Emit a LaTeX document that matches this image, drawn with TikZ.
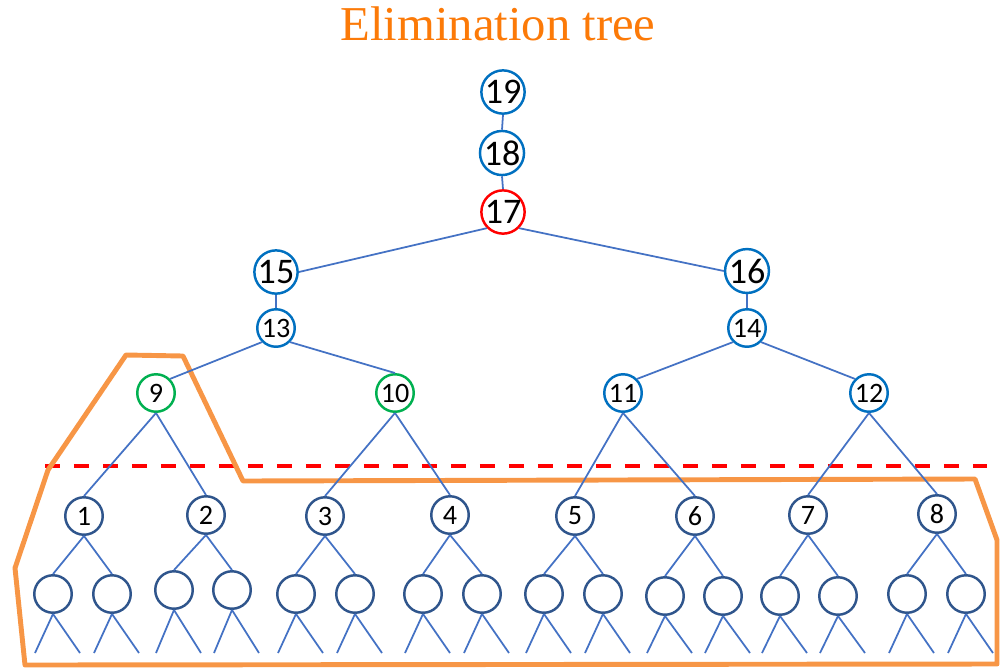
\documentclass[tikz,border=0pt]{standalone}
\usepackage{fontspec}
\setmainfont{Liberation Serif}
\newfontfamily\numfont{Carlito}
\begin{document}
\definecolor{titleorange}{RGB}{252,122,8}
\definecolor{hullorange}{RGB}{247,150,70}
\definecolor{topblue}{RGB}{0,112,192}
\definecolor{sepgreen}{RGB}{0,176,80}
\definecolor{lowblue}{RGB}{47,85,140}
\definecolor{edgeblue}{RGB}{68,114,196}
\begin{tikzpicture}[x=0.02cm,y=-0.02cm,
  tnode/.style={circle,inner sep=0pt,minimum size=0.75cm,line width=1.4pt,fill=white},
  bignum/.style={tnode,draw=topblue,font=\numfont\fontsize{20.5}{21}\selectfont},
  midnum/.style={tnode,draw=topblue,font=\numfont\fontsize{16}{17}\selectfont},
  rootsep/.style={tnode,draw=red,font=\numfont\fontsize{20.5}{21}\selectfont},
  sepnode/.style={tnode,draw=sepgreen,font=\numfont\fontsize{16}{17}\selectfont},
  lownode/.style={tnode,draw=lowblue,font=\numfont\fontsize{16}{17}\selectfont},
  leafnode/.style={tnode,draw=lowblue},
  edge/.style={draw=edgeblue,line width=1pt},
  hull/.style={draw=hullorange,line width=2.8pt,line join=round},
  cut/.style={draw=red,line width=2.3pt,dash pattern=on 0.3cm off 0.28cm}]
\useasboundingbox (0,0) rectangle (1000,670);

% title
\node[anchor=base,text=titleorange,font=\fontsize{27.7}{30}\selectfont] (title) at (498,40) {Elimination tree};

% separator line and subtree hull
\coordinate (cutL) at (45,466);
\coordinate (cutR) at (987,466);
\draw[cut] (cutL) -- (cutR);
\draw[hull] (126,355) -- (183,356) -- (243,481) -- (975,479) -- (997,540)
  -- (997,664) -- (25,665) -- (15,568) -- (48,470) -- cycle;

% upper part of the tree
\node[bignum]  (n19) at (503,92)  {19};
\node[bignum]  (n18) at (502,153) {18};
\node[rootsep] (n17) at (503,212) {17};
\node[bignum]  (n15) at (276,272) {15};
\node[bignum]  (n16) at (747,271) {16};
\node[midnum]  (n13) at (276,328) {13};
\node[midnum]  (n14) at (747,328) {14};
\node[sepnode] (n9)  at (156,393) {9};
\node[sepnode] (n10) at (395,393) {10};
\node[midnum]  (n11) at (623,393) {11};
\node[midnum]  (n12) at (869,393) {12};

% lower subtrees
\foreach \i/\x/\y in {1/84/516,2/206/515,3/325/516,4/450/515,5/575/516,6/695/516,7/808/515,8/937/514}
  \node[lownode] (n\i) at (\x,\y) {\i};

\foreach \i/\xa/\xb/\y in {1/53/112/594,2/174/232/590,3/296/355/594,4/423/482/594,
                           5/544/603/594,6/665/723/596,7/780/838/596,8/907/966/594}{
  \node[leafnode] (l\i a) at (\xa,\y) {};
  \node[leafnode] (l\i b) at (\xb,\y) {};
  \coordinate (f\i a1) at (\xa-18,653);
  \coordinate (f\i a2) at (\xa+27,653);
  \coordinate (f\i b1) at (\xb-18,653);
  \coordinate (f\i b2) at (\xb+27,653);
}

% connectors
\draw[edge] (n19.south) -- (n18.north);
\draw[edge] (n18.south) -- (n17.north);
\draw[edge] (n17.south west) -- (n15.east);
\draw[edge] (n17.south east) -- (n16.west);
\draw[edge] (n15.south) -- (n13.north);
\draw[edge] (n16.south) -- (n14.north);
\draw[edge] (n13.south west) -- (n9.north east);
\draw[edge] (n13.south east) -- (n10.north);
\draw[edge] (n14.south west) -- (n11.north east);
\draw[edge] (n14.south east) -- (n12.north west);
\draw[edge] (n9.south) -- (n1.north);
\draw[edge] (n9.south) -- (n2.north);
\draw[edge] (n10.south) -- (n3.north);
\draw[edge] (n10.south) -- (n4.north);
\draw[edge] (n11.south) -- (n5.north);
\draw[edge] (n11.south) -- (n6.north);
\draw[edge] (n12.south) -- (n7.north);
\draw[edge] (n12.south) -- (n8.north);
\foreach \i in {1,...,8}{
  \draw[edge] (n\i.south) -- (l\i a.north);
  \draw[edge] (n\i.south) -- (l\i b.north);
  \draw[edge] (l\i a.south) -- (f\i a1);
  \draw[edge] (l\i a.south) -- (f\i a2);
  \draw[edge] (l\i b.south) -- (f\i b1);
  \draw[edge] (l\i b.south) -- (f\i b2);
}
\end{tikzpicture}
\end{document}
